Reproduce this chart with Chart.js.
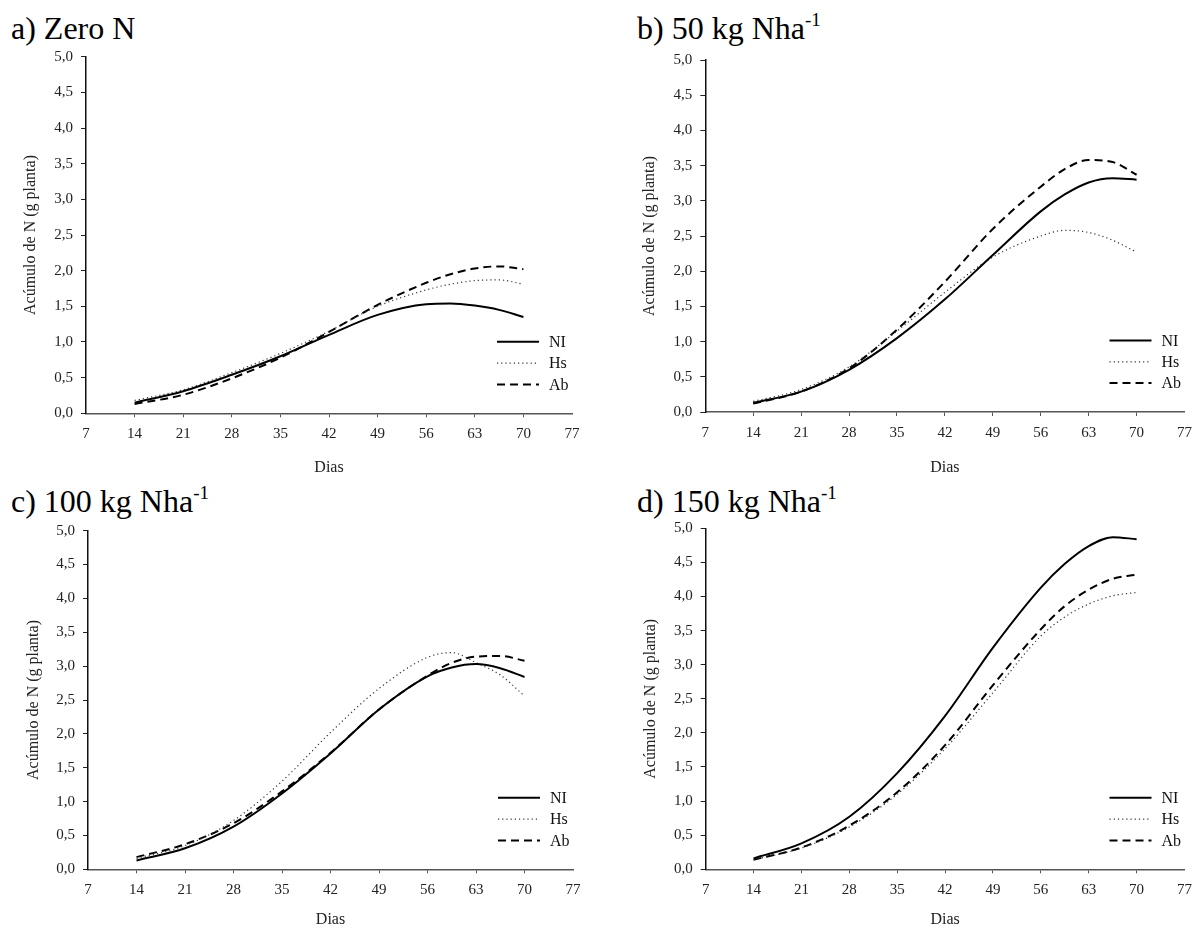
<!DOCTYPE html>
<html>
<head>
<meta charset="utf-8">
<script src="https://cdn.jsdelivr.net/npm/chart.js@4.4.1/dist/chart.umd.min.js"></script>
<style>
  body { margin:0; background:#fff; width:1200px; height:928px; position:relative; overflow:hidden;
         font-family:"Liberation Serif","Times New Roman",serif; }
  canvas { position:absolute; }
  .ttl { position:absolute; font-size:32px; line-height:1; color:#000; white-space:nowrap; }
  .ttl sup { font-size:19px; vertical-align:baseline; position:relative; top:-13px; }
</style>
</head>
<body>
<div class="ttl" style="left:11px;top:12px">a) Zero N</div>
<div class="ttl" style="left:637px;top:12px">b) 50 kg Nha<sup>-1</sup></div>
<div class="ttl" style="left:11px;top:485px">c) 100 kg Nha<sup>-1</sup></div>
<div class="ttl" style="left:637px;top:485px">d) 150 kg Nha<sup>-1</sup></div>
<canvas id="pa"></canvas>
<canvas id="pb"></canvas>
<canvas id="pc"></canvas>
<canvas id="pd"></canvas>
<script>
// dias de avaliação
const days = [14, 21, 28, 35, 42, 49, 56, 59.5, 63, 66.5, 70];
const xTicks = [7, 14, 21, 28, 35, 42, 49, 56, 63, 70, 77];
const yTicks = [0, 0.5, 1, 1.5, 2, 2.5, 3, 3.5, 4, 4.5, 5];
const seriesNames = ['NI', 'Hs', 'Ab'];

// a) Zero N
const aNI = [0.15, 0.31, 0.54, 0.80, 1.10, 1.38, 1.53, 1.54, 1.51, 1.45, 1.35];
const aHs = [0.18, 0.33, 0.57, 0.84, 1.15, 1.50, 1.73, 1.81, 1.86, 1.87, 1.81];
const aAb = [0.13, 0.26, 0.49, 0.78, 1.14, 1.52, 1.83, 1.95, 2.03, 2.06, 2.02];
// b) 50 kg
const bNI = [0.13, 0.29, 0.60, 1.05, 1.60, 2.23, 2.85, 3.09, 3.26, 3.32, 3.30];
const bHs = [0.15, 0.32, 0.64, 1.15, 1.70, 2.20, 2.50, 2.58, 2.55, 2.44, 2.27];
const bAb = [0.12, 0.29, 0.62, 1.17, 1.85, 2.60, 3.20, 3.45, 3.58, 3.55, 3.37];
// c) 100 kg
const cNI = [0.13, 0.31, 0.63, 1.12, 1.71, 2.36, 2.85, 2.98, 3.03, 2.97, 2.84];
const cHs = [0.16, 0.35, 0.72, 1.30, 2.02, 2.67, 3.13, 3.20, 3.05, 2.87, 2.56];
const cAb = [0.18, 0.37, 0.68, 1.15, 1.72, 2.36, 2.86, 3.05, 3.14, 3.15, 3.08];
// d) 150 kg
const dNI = [0.16, 0.38, 0.77, 1.41, 2.25, 3.25, 4.13, 4.48, 4.74, 4.87, 4.84];
const dHs = [0.14, 0.31, 0.62, 1.10, 1.77, 2.59, 3.42, 3.70, 3.89, 4.01, 4.06];
const dAb = [0.14, 0.32, 0.64, 1.13, 1.82, 2.70, 3.52, 3.86, 4.10, 4.26, 4.32];

const styles = [
  { borderColor:'#000', borderWidth:2, borderDash:[] },
  { borderColor:'#333', borderWidth:1.2, borderDash:[1.2, 3] },
  { borderColor:'#000', borderWidth:2, borderDash:[8, 5] }
];

const FONT = '"Liberation Serif", "Times New Roman", serif';

// legenda dentro da área do gráfico, canto inferior direito
const legendLines = {
  id: 'legendLines',
  afterDatasetsDraw(chart) {
    const { ctx, chartArea: a } = chart;
    chart.data.datasets.forEach((ds, i) => {
      const y = a.bottom - 71.5 + i * 21.3;
      ctx.save();
      ctx.strokeStyle = ds.borderColor;
      ctx.lineWidth = ds.borderWidth;
      ctx.setLineDash(ds.borderDash || []);
      ctx.beginPath();
      ctx.moveTo(a.right - 75, y);
      ctx.lineTo(a.right - 33, y);
      ctx.stroke();
      ctx.setLineDash([]);
      ctx.fillStyle = '#111';
      ctx.font = '16px ' + FONT;
      ctx.textBaseline = 'middle';
      ctx.fillText(ds.label, a.right - 23, y + 1);
      ctx.restore();
    });
  }
};

function drawPanel(id, box, area, yTitleX, values) {
  const cv = document.getElementById(id);
  cv.width = box.w; cv.height = box.h;
  cv.style.left = box.x + 'px'; cv.style.top = box.y + 'px';
  cv.style.width = box.w + 'px'; cv.style.height = box.h + 'px';
  const left = area.l - box.x, top = area.t - box.y, right = area.r - box.x, bottom = area.b - box.y;

  new Chart(cv.getContext('2d'), {
    type: 'line',
    data: {
      datasets: values.map((v, i) => ({
        label: seriesNames[i],
        data: days.map((d, k) => ({ x: d, y: v[k] })),
        borderColor: styles[i].borderColor,
        borderWidth: styles[i].borderWidth,
        borderDash: styles[i].borderDash,
        pointRadius: 0,
        cubicInterpolationMode: 'monotone',
        fill: false
      }))
    },
    options: {
      responsive: false,
      animation: false,
      devicePixelRatio: 1,
      layout: { padding: { top: top, right: box.w - right, left: 0, bottom: 0 } },
      plugins: { legend: { display: false }, tooltip: { enabled: false } },
      scales: {
        x: {
          type: 'linear', min: 7, max: 77,
          afterBuildTicks: s => { s.ticks = xTicks.map(v => ({ value: v })); },
          afterFit: s => { s.height = box.h - bottom; },
          grid: {
            drawOnChartArea: false, drawTicks: true, tickLength: 4,
            tickColor: c => (c.tick && (c.tick.value === 7 || c.tick.value === 77)) ? 'rgba(0,0,0,0)' : '#555'
          },
          border: { color: '#555', width: 1.5 },
          ticks: { color: '#222', font: { family: FONT, size: 15 }, padding: 8, maxRotation: 0 },
          title: { display: true, text: 'Dias', color: '#222', font: { family: FONT, size: 16, lineHeight: 1 }, padding: 0 }
        },
        y: {
          min: 0, max: 5,
          afterBuildTicks: s => { s.ticks = yTicks.map(v => ({ value: v })); },
          afterFit: s => { s.width = left; },
          grid: { drawOnChartArea: false, drawTicks: true, tickLength: 5, tickColor: '#222' },
          border: { color: '#111', width: 1.5 },
          ticks: {
            color: '#222', font: { family: FONT, size: 15 }, padding: 8,
            callback: v => v.toFixed(1).replace('.', ',')
          },
          title: {
            display: true, text: 'Acúmulo de N (g planta)', color: '#222',
            font: { family: FONT, size: 16, lineHeight: 1 },
            padding: { top: yTitleX - box.x - 8, bottom: 0 }
          }
        }
      }
    },
    plugins: [legendLines]
  });
}

drawPanel('pa', { x:0,   y:0,   w:600, h:476 }, { l:86,    t:56.7,  r:572,    b:413.3 }, 31,  [aNI, aHs, aAb]);
drawPanel('pb', { x:600, y:0,   w:600, h:476 }, { l:705.3, t:60,    r:1191.7, b:412   }, 650, [bNI, bHs, bAb]);
drawPanel('pc', { x:0,   y:464, w:600, h:464 }, { l:88,    t:530.7, r:573,    b:869.3 }, 34,  [cNI, cHs, cAb]);
drawPanel('pd', { x:600, y:464, w:600, h:464 }, { l:705.7, t:528.3, r:1191.7, b:869.3 }, 651, [dNI, dHs, dAb]);
</script>
</body>
</html>
